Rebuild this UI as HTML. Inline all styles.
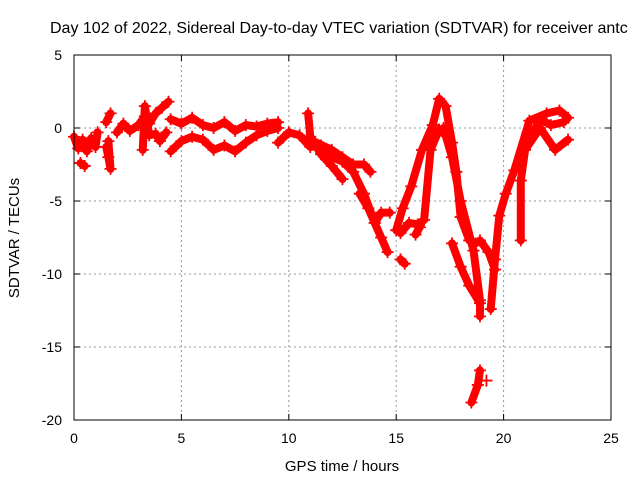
<!DOCTYPE html>
<html><head><meta charset="utf-8"><style>
html,body{margin:0;padding:0;background:#fff;overflow:hidden;}
svg text{font-family:"Liberation Sans",sans-serif;font-size:14px;fill:#000;}
</style></head><body>
<svg id="chart" width="640" height="480" xmlns="http://www.w3.org/2000/svg">
<text x="50" y="33" style="font-size:16px">Day 102 of 2022, Sidereal Day-to-day VTEC variation (SDTVAR) for receiver antc</text>
<g id="grid"></g><g id="marks"></g>
<rect x="74" y="55" width="537" height="365" fill="none" stroke="#000" stroke-width="1"/>
<g id="axes"></g>
<text x="342" y="471" text-anchor="middle" style="font-size:15px">GPS time / hours</text>
<text transform="translate(19,238) rotate(-90)" text-anchor="middle" style="font-size:15px">SDTVAR / TECUs</text>
</svg>
<script>
const xTicks=[0,5,10,15,20,25];
const yTicks=[5,0,-5,-10,-15,-20];
const trackA=[[0,-0.6],[0.2,-1.4],[0.4,-0.8],[0.6,-1.6],[0.8,-0.7],[1,-1.3],[1.1,-0.3]];
const trackA2=[[0.3,-2.4],[0.5,-2.6]];
const trackB=[[1.5,0.4],[1.7,1]];
const trackC=[[1.5,-1.3],[1.6,-2],[1.7,-2.8],[1.6,-0.9]];
const trackD=[[2,-0.3],[2.3,0.3],[2.6,-0.2],[3,0.2],[3.3,0.8],[3.5,0.3],[3.8,1],[4.1,1.4],[4.4,1.8]];
const trackD2=[[3.2,-1.5],[3.3,1.5],[3.5,-0.5],[3.8,-0.4],[4,-0.9],[4.3,-0.3]];
const trackE1=[[4.5,0.6],[5,0.3],[5.5,0.7],[6,0.2],[6.5,0],[7,0.4],[7.5,-0.2],[8,0.2],[8.5,0.1],[9,0.3],[9.5,0.4]];
const trackE2=[[4.5,-1.6],[5,-0.9],[5.5,-0.6],[6,-0.8],[6.5,-1.5],[7,-1.2],[7.5,-1.6],[8,-1],[8.5,-0.5],[9,-0.2],[9.5,0]];
const trackF=[[9.5,-1],[10,-0.3],[10.5,-0.5],[11,-1.3],[11.5,-1.2],[12,-2],[12.5,-2.3],[13,-3],[13.5,-4.5],[14,-6.5],[14.3,-7.5],[14.6,-8.5]];
const trackF2=[[10.9,1],[11,-0.6],[11.5,-1.8],[12,-2.6],[12.5,-3.5]];
const trackG=[[11,-0.8],[12,-1.5],[12.5,-2],[13,-2.5],[13.5,-2.5],[13.8,-3]];
const trackH=[[13.3,-4.5],[13.7,-5.5],[14,-6.5],[14.3,-5.8],[14.7,-5.8]];
const trackI=[[15,-7],[15.3,-5.5],[15.7,-4],[16.2,-1.5],[16.7,0.2],[17,2],[17.3,1.5],[17.6,-1],[17.8,-3],[18,-6.1],[18.4,-7.7],[18.7,-7.9]];
const trackJ=[[15.2,-7.2],[15.6,-6.5],[16,-6.6],[16.3,-6.3],[16.6,-1.5],[17,-0.1],[17.3,-0.5]];
const trackJ2=[[15.9,-7.3],[16.1,-6.8]];
const trackK=[[15.2,-9],[15.4,-9.3]];
const trackL=[[17.2,0],[17.6,-2],[18,-5],[18.6,-8.4],[18.9,-11.8],[18.9,-12.9]];
const trackM=[[17.6,-7.9],[18,-9.5],[18.4,-10.8],[18.9,-12]];
const trackN=[[19.4,-12.4],[19.6,-9],[19.8,-6],[20.1,-4.5],[20.5,-2.9],[21.2,0.5],[22,1],[22.6,1.2],[23,0.7]];
const trackO=[[20.8,-7.7],[20.8,-3.6],[21,-1.5],[21.7,0],[22.4,-1.5],[23,-0.8]];
const trackO2=[[21.2,-0.8],[21.7,0.6],[22.2,0.2],[22.8,0.4]];
const trackP=[[18.5,-18.8],[18.8,-17.6],[18.9,-16.6]];
const trackP2=[[19.2,-17.3]];
const trackQ=[[18.9,-7.7],[19.3,-8.5],[19.6,-9.7]];
const tracks=[trackA,trackA2,trackB,trackC,trackD,trackD2,trackE1,trackE2,trackF,trackF2,trackG,trackH,trackI,trackJ,trackJ2,trackK,trackL,trackM,trackN,trackO,trackO2,trackP,trackP2,trackQ];
const X=t=>74+t*537/25, Y=v=>128-v*14.6;
const NS="http://www.w3.org/2000/svg";
const grid=document.getElementById('grid'),axes=document.getElementById('axes'),marks=document.getElementById('marks');
function mk(tag,attrs,parent){const e=document.createElementNS(NS,tag);for(const k in attrs)e.setAttribute(k,attrs[k]);parent.appendChild(e);return e;}
xTicks.forEach(t=>{
 if(t>0&&t<25){const g=mk('line',{x1:X(t),x2:X(t),y1:55,y2:420,stroke:'#999','stroke-dasharray':'2,3'},grid);
 
 }
 mk('line',{x1:X(t),x2:X(t),y1:420,y2:414,stroke:'#000'},axes);mk('line',{x1:X(t),x2:X(t),y1:55,y2:61,stroke:'#000'},axes);
 const tx=mk('text',{x:X(t),y:443,'text-anchor':'middle'},axes);tx.textContent=t;
 
 
});
yTicks.forEach(v=>{
 if(v<5&&v>-20){const g=mk('line',{x1:74,x2:611,y1:Y(v),y2:Y(v),stroke:'#999','stroke-dasharray':'2,3'},grid);
 
 }
 mk('line',{x1:74,x2:80,y1:Y(v),y2:Y(v),stroke:'#000'},axes);mk('line',{x1:605,x2:611,y1:Y(v),y2:Y(v),stroke:'#000'},axes);
 const tx=mk('text',{x:62,y:Y(v)+5,'text-anchor':'end'},axes);tx.textContent=v;
 
 
});
tracks.forEach((tr,i)=>{
 const pl=mk('polyline',{points:tr.map(p=>X(p[0])+','+Y(p[1])).join(' '),fill:'none',stroke:'#f00','stroke-width':8,'stroke-linejoin':'round','stroke-linecap':'round'},marks);
 
 
 tr.forEach(p=>{
  const m=mk('path',{d:`M${X(p[0])-6},${Y(p[1])}h12M${X(p[0])},${Y(p[1])-6}v12`,stroke:'#f00','stroke-width':1.8},marks);
  
  
 });
});
</script>
</body></html>
